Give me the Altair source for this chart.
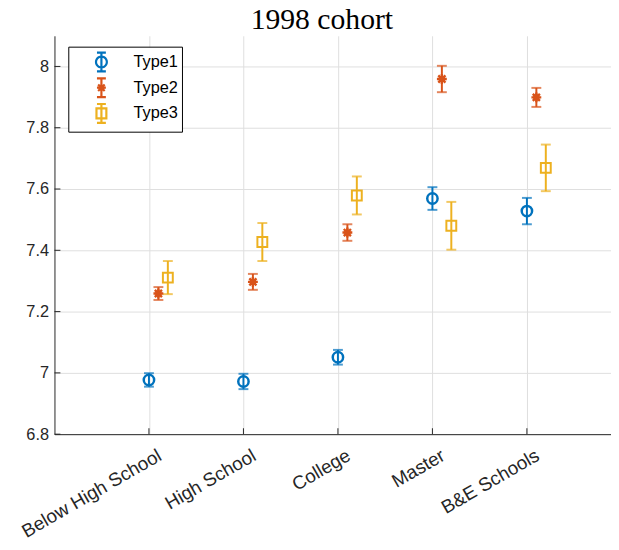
import json
import math
import altair as alt
import pandas as pd

# ---------------- data ----------------
categories = ["Below High School", "High School", "College", "Master", "B&E Schools"]
types = ["Type1", "Type2", "Type3"]

type1_mean = [6.977, 6.972, 7.051, 7.569, 7.528]
type1_err = [0.022, 0.025, 0.024, 0.037, 0.043]
type2_mean = [7.259, 7.297, 7.458, 7.959, 7.899]
type2_err = [0.021, 0.026, 0.027, 0.043, 0.031]
type3_mean = [7.311, 7.427, 7.579, 7.480, 7.669]
type3_err = [0.054, 0.062, 0.062, 0.078, 0.076]

y_ticks = [6.8, 7.0, 7.2, 7.4, 7.6, 7.8, 8.0]
x_ticks = [1, 2, 3, 4, 5]

# ---------------- styling / layout ----------------
colors = ["#0072BD", "#D95319", "#EDB120"]
offsets = [0.0, 0.1, 0.2]
W, H = 563, 403
axis_col = "#262626"
grid_col = "#dfdfdf"
sans = "Liberation Sans"

rows = []
for t, means, errs, off in zip(types, [type1_mean, type2_mean, type3_mean],
                               [type1_err, type2_err, type3_err], offsets):
    for i, (m, e) in enumerate(zip(means, errs)):
        rows.append(dict(Type=t, Tb=t, cat=categories[i], pos=i + 1 + off,
                         mean=m, lo=m - e, hi=m + e))
df = pd.DataFrame(rows)

xscale = alt.Scale(domain=[0, 5.89], nice=False, zero=False)
yscale = alt.Scale(domain=[6.8, 8.1], nice=False, zero=False)
cscale = alt.Scale(domain=types, range=colors)
bscale = alt.Scale(range=colors)  # same colours, data-driven domain (no legend)

label_expr = json.dumps(categories) + "[datum.value - 1]"

x_axis = alt.Axis(values=x_ticks, labelExpr=label_expr, title=None, grid=True,
                  gridColor=grid_col, gridWidth=1, ticks=False, domainColor=axis_col,
                  domainWidth=1, labelFont=sans, labelFontSize=19, labelColor=axis_col,
                  labelAngle=-30, labelAlign="right", labelBaseline="top",
                  labelPadding=12, labelOffset=6, labelOverlap=False)
y_axis = alt.Axis(values=y_ticks, format="~g", title=None, grid=True,
                  gridColor=grid_col, gridWidth=1, ticks=False, domainColor=axis_col,
                  domainWidth=1, labelFont=sans, labelFontSize=16.5, labelColor=axis_col,
                  labelPadding=6)


def X(field):
    return alt.X(field, scale=xscale, axis=x_axis)


def Y(field):
    return alt.Y(field, scale=yscale, axis=y_axis)


base = alt.Chart(df)

# error bars
bars = base.mark_rule(strokeWidth=2).encode(
    x=X("pos:Q"), y=Y("lo:Q"), y2="hi:Q",
    stroke=alt.Stroke("Tb:N", scale=bscale, legend=None),
)
cap_lo = base.mark_tick(orient="horizontal", size=10, thickness=2).encode(
    x=X("pos:Q"), y=Y("lo:Q"),
    fill=alt.Fill("Tb:N", scale=bscale, legend=None),
)
cap_hi = base.mark_tick(orient="horizontal", size=10, thickness=2).encode(
    x=X("pos:Q"), y=Y("hi:Q"),
    fill=alt.Fill("Tb:N", scale=bscale, legend=None),
)

# markers
star = "M0,-1V1M-1,0H1M-0.72,-0.72L0.72,0.72M-0.72,0.72L0.72,-0.72"
m1 = base.transform_filter(alt.datum.Type == "Type1").mark_point(
    shape="circle", size=110, filled=False, strokeWidth=2.5, color=colors[0], opacity=1
).encode(x=X("pos:Q"), y=Y("mean:Q"))
m2 = base.transform_filter(alt.datum.Type == "Type2").mark_point(
    shape=star, size=100, filled=False, strokeWidth=2.4, color=colors[1], opacity=1
).encode(x=X("pos:Q"), y=Y("mean:Q"))
m2b = base.transform_filter(alt.datum.Type == "Type2").mark_point(
    shape="circle", size=40, filled=True, color=colors[1], opacity=1
).encode(x=X("pos:Q"), y=Y("mean:Q"))
m3 = base.transform_filter(alt.datum.Type == "Type3").mark_point(
    shape="square", size=100, filled=False, strokeWidth=2, color=colors[2], opacity=1
).encode(x=X("pos:Q"), y=Y("mean:Q"))


# legend glyphs (error bar + marker), carried by an invisible layer
def polygon(r, n=24):
    pts = [(r * math.cos(2 * math.pi * k / n), r * math.sin(2 * math.pi * k / n))
           for k in range(n)]
    return "M" + "L".join(f"{x:.3f},{y:.3f}" for x, y in pts) + "Z"


barpath = "M-0.45,-0.95H0.45M0,-0.95V0.95M-0.45,0.95H0.45"
g1 = barpath + polygon(0.55)
g2 = (barpath + "M-0.45,0H0.45M0,-0.45V0.45M-0.33,-0.33L0.33,0.33M-0.33,0.33L0.33,-0.33"
      + polygon(0.22) + polygon(0.1))
g3 = barpath + "M-0.5,-0.5H0.5V0.5H-0.5Z"
leg = alt.Legend(title=None, orient="none", legendX=14, legendY=11, padding=4,
                 strokeColor="black", fillColor="white", labelFont=sans,
                 labelFontSize=16.5, labelColor="black", symbolOffset=18,
                 labelOffset=21, rowPadding=-6.5, symbolSize=400, symbolOpacity=1,
                 symbolStrokeWidth=2.2)
legend_layer = base.mark_point(filled=False, opacity=0, strokeWidth=2.2).encode(
    x=X("pos:Q"), y=Y("mean:Q"),
    color=alt.Color("Type:N", scale=cscale, legend=leg),
    shape=alt.Shape("Type:N", scale=alt.Scale(domain=types, range=[g1, g2, g3]), legend=leg),
)

# inward tick marks (MATLAB style)
yt = alt.Chart(pd.DataFrame({"v": y_ticks})).mark_rule(color=axis_col, strokeWidth=1).encode(
    y=Y("v:Q"), x=alt.value(0), x2=alt.value(6))
xt = alt.Chart(pd.DataFrame({"p": x_ticks})).mark_rule(color=axis_col, strokeWidth=1).encode(
    x=X("p:Q"), y=alt.value(H), y2=alt.value(H - 6))

chart = alt.layer(bars, cap_lo, cap_hi, m1, m2, m2b, m3, legend_layer, yt, xt).properties(
    width=W, height=H,
    title=alt.TitleParams("1998 cohort", font="Liberation Serif", fontSize=30,
                          fontWeight="normal", color="black", anchor="middle",
                          dx=-11, offset=1),
    autosize=alt.AutoSizeParams(type="none"),
    padding={"left": 47, "top": 25, "right": 0, "bottom": 110},
).configure_view(stroke=None)

chart.save("out.html", embed_options={"renderer": "svg", "actions": False})
